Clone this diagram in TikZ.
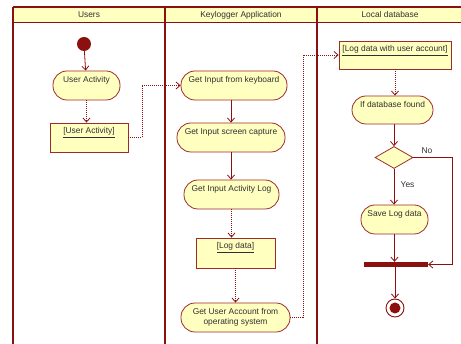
\documentclass[tikz,border=0pt]{standalone}
\usepackage{fontspec}
\setmainfont{Liberation Sans}
\usetikzlibrary{arrows.meta,shapes.geometric}
\definecolor{lane}{HTML}{8B1010}
\definecolor{bord}{HTML}{9E2A2A}
\definecolor{fillc}{HTML}{FFFFC0}
\definecolor{txt}{HTML}{303030}
\tikzset{
  every node/.style={font=\fontsize{8.4}{10}\selectfont, text=txt},
  activity/.style={draw=bord, fill=fillc, line width=0.8pt, rounded corners=14pt, inner sep=0pt},
  objbox/.style={draw=bord, fill=fillc, line width=0.8pt, inner sep=0pt},
  conn/.style={draw=lane, line width=0.8pt, -{Straight Barb[length=4pt,width=7pt]}},
  dotconn/.style={conn, dash pattern=on 1pt off 1pt},
  header/.style={draw=lane, fill=fillc, line width=0.8pt, inner sep=0pt, minimum height=15pt},
}
\newcommand{\up}[2]{\raisebox{#1}[0pt][0pt]{#2}}
\begin{document}
\begin{tikzpicture}[x=1pt,y=-1pt]
\useasboundingbox (0,0) rectangle (461,344);
% headers
\node[header, minimum width=152pt] (h1) at (89,14.5) {\up{-3pt}{Users}};
\node[header, minimum width=152pt] (h2) at (241,14.5) {\up{-3pt}{Keylogger Application}};
\node[header, minimum width=146pt] (h3) at (390,14.5) {\up{-3pt}{Local database}};
\draw[lane, line width=1.8pt] (13,7) -- (461,7);
\draw[lane, line width=1.8pt] (13,7) -- (13,344);
\draw[lane, line width=2.4pt] (165,7) -- (165,344);
\draw[lane, line width=2.4pt] (317,7) -- (317,344);

% Users lane
\node[circle, fill=lane, minimum size=14pt, inner sep=0pt] (init) at (84,44) {};
\node[activity, minimum width=67pt, minimum height=29pt] (ua) at (86.5,85.5) {\up{2.5pt}{User Activity}};
\node[objbox, minimum width=78pt, minimum height=29pt] (uaobj) at (89,137.5) {\up{3.5pt}{\underline{[User Activity]}}};

% Keylogger lane
\node[activity, minimum width=106pt, minimum height=29pt] (kb) at (234,85.5) {\up{2.5pt}{Get Input from keyboard}};
\node[activity, minimum width=108pt, minimum height=29pt] (sc) at (231,137.5) {\up{2.5pt}{Get Input screen capture}};
\node[activity, minimum width=95pt, minimum height=29pt] (al) at (231.5,194.5) {\up{2.5pt}{Get Input Activity Log}};
\node[objbox, minimum width=79pt, minimum height=30pt] (logd) at (235.5,253) {\up{4pt}{\underline{[Log data]}}};
\node[activity, minimum width=109pt, minimum height=29pt, align=center] (gua) at (235.5,317.5) {Get User Account from\\operating system};

% Local database lane
\node[objbox, minimum width=112pt, minimum height=28pt] (ldb) at (395,55) {\up{3pt}{\underline{[Log data with user account]}}};
\node[activity, minimum width=81pt, minimum height=28pt] (dbf) at (392.5,110) {\up{2pt}{If database found}};
\node[diamond, draw=bord, fill=fillc, line width=0.8pt, inner sep=0pt, minimum width=38pt, minimum height=22pt, aspect=1.7] (dec) at (394,157.5) {};
\node[activity, minimum width=67pt, minimum height=29pt] (save) at (394.5,219.5) {\up{2.5pt}{Save Log data}};
\node[rectangle, fill=lane, minimum width=64pt, minimum height=5pt, inner sep=0pt] (bar) at (396,264.5) {};
\node[circle, draw=lane, fill=white, line width=0.9pt, minimum size=18pt, inner sep=0pt] (fin) at (395,308) {};
\node[circle, fill=lane, minimum size=11pt, inner sep=0pt] (finin) at (fin.center) {};

% connectors
\draw[conn] (init) -- (ua);
\draw[dotconn] (ua) -- (uaobj.north -| ua);
\draw[dotconn] (uaobj.east) -- ++(14,0) |- (kb.west);
\draw[conn] (kb.south -| sc.north) -- (sc.north);
\draw[conn] (sc.south) -- (sc.south |- al.north);
\draw[dotconn] (al.south) -- (al.south |- logd.north);
\draw[dotconn] (logd.south) -- (logd.south |- gua.north);
\draw[dotconn] (gua.east) -- ++(13,0) |- (ldb.west);
\draw[dotconn] (ldb.south) -- (ldb.south |- dbf.north);
\draw[conn] (dbf.south -| dec.north) -- (dec.north);
\draw[conn] (dec.south) -- node[pos=0.45, right=3pt] (yes) {Yes} (dec.south |- save.north);
\draw[conn] (dec.east) -- node[above, pos=0.35] (no) {No} ++(39,0) |- (bar.east);
\draw[conn] (save.south) -- (save.south |- bar.north);
\draw[conn] (bar.south -| fin.north) -- (fin.north);
\end{tikzpicture}
\end{document}
